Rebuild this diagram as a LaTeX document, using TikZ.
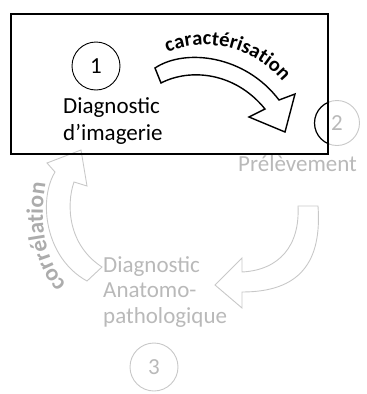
\documentclass[tikz,border=0pt]{standalone}
\usepackage{fontspec}
\setmainfont{Carlito}
\usetikzlibrary{decorations.text}
\definecolor{fadetext}{RGB}{185,185,185}
\definecolor{fadeline}{RGB}{200,200,200}
\definecolor{fadebold}{RGB}{172,172,172}
\begin{document}
\begin{tikzpicture}[x=1pt,y=-1pt,
  lbl/.style={inner sep=0pt, anchor=base west, font=\fontsize{23}{26}\selectfont},
  fadelbl/.style={lbl, text=fadetext},
  numcirc/.style={circle, draw, inner sep=0pt, minimum size=48pt, font=\fontsize{23}{26}\selectfont},
  fadecirc/.style={numcirc, draw=fadeline, text=fadetext, line width=0.9pt},
  blockarrow/.style={draw=black, line width=1.4pt, line join=miter, fill=white},
  fadearrow/.style={draw=fadeline, line width=0.9pt, line join=miter}
]
\useasboundingbox (0,0) rectangle (367,394);

% circles
\node[numcirc, line width=0.9pt] (c1) at (96,66) {1};
\node[fadecirc, minimum size=45pt] (c2) at (337,123) {2};
\node[fadecirc] (c3) at (154,367) {3};

% texts
\node[lbl] (t1a) at (63,113) {Diagnostic};
\node[lbl] (t1b) at (63,140) {d’imagerie};
\node[fadelbl] (t2) at (238,171) {Prélèvement};
\node[fadelbl] (t3a) at (103,272) {Diagnostic};
\node[fadelbl] (t3b) at (103,297) {Anatomo-};
\node[fadelbl] (t3c) at (103,323) {pathologique};

% caracterisation arrow (black)
\draw[blockarrow] (155,68) .. controls (185,48) and (245,55) .. (279,100)
  -- (295,94) -- (285,132) -- (249,117) -- (265,109)
  .. controls (235,72) and (190,68) .. (161,83) -- cycle;

% prelevement -> anatomo arrow (faded)
\draw[fadearrow] (298,206) -- (318,206)
  .. controls (322,262) and (300,292) .. (242,292)
  -- (242,308) -- (215,285) -- (242,258) -- (242,272)
  .. controls (280,270) and (300,245) .. (298,206) -- cycle;

% correlation arrow (faded)
\draw[fadearrow] (87,281) .. controls (45,258) and (38,200) .. (55,172)
  -- (47,163) -- (81,150) -- (87,186) -- (74,182)
  .. controls (66,205) and (68,245) .. (102,267) -- cycle;

% curved labels
\path[decorate, decoration={text along path, text align=center,
  text={|\fontsize{20.5}{20}\bfseries\selectfont|caractérisation}}]
  (158,57) .. controls (195,35) and (257,42) .. (289,90);
\path[decorate, decoration={text along path, text align=center,
  text={|\fontsize{23.5}{23}\bfseries\selectfont\color{fadebold}|corrélation}}]
  (72,290) .. controls (45,265) and (37,225) .. (47,176);

% highlight frame
\node[draw=black, line width=2.2pt, minimum width=317pt, minimum height=140pt, inner sep=0pt, anchor=north west] (frame) at (10,13) {};
\begin{scope}
  \clip (frame.south west) rectangle (frame.north east);
  \draw[black, line width=1.2pt] (c2.center) circle (22.5pt);
\end{scope}
\end{tikzpicture}
\end{document}
